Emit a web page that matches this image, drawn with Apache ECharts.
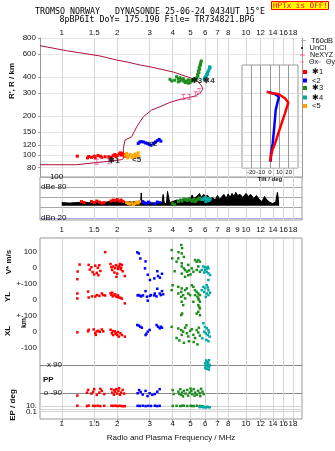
<!DOCTYPE html>
<html><head><meta charset="utf-8">
<script src="https://cdn.jsdelivr.net/npm/echarts@6/dist/echarts.min.js"></script>
<style>html,body{margin:0;padding:0;background:#fff}#c{width:335px;height:451px}</style>
</head><body><div id="c"></div>
<script>
// ---------------- DATA ----------------
const freqTicksTop = [1,1.5,2,3,4,5,6,7,8,10,12,14,16,18];
const freqTicksMid = [1,1.5,2,3,4,5,6,7,8,9,10,12,14,16,18];
const heightTicks = [80,90,100,120,150,200,300,400,600,800];
const tiltTicks = [-20,-10,0,10,20];
const dbLabelVals = [20,80,100];
const dbLabelText = ['dBn 20','dBe 80','    100'];
const dbGridVals = [40,60,80,100];
const compLabelText = ['100','0','+-100','0','+-100','0','-100','0.1'];
const epLabelText = ['10.'];
const ppLabelText = ['x 90','o -90'];

// plasma-frequency / height profile (MHz, km)
const profile = [[0.762,84.2],[1.20,84.2],[1.21,86.3],[1.61,88],[1.9,90.4],[2.10,92.0],[2.159,93.5],[2.159,95.4],[2.16,112.7],[2.206,130.6],[2.398,138.5],[2.553,165.4],[2.772,197.6],[3.078,222.6],[3.415,236],[3.869,255],[4.385,269],[4.86,277],[5.29,285.4],[5.63,299.4],[5.82,321.6],[5.75,341],[5.40,377],[4.97,395],[4.03,437],[3.01,480],[2.66,495],[2.35,516],[1.988,541],[1.614,581],[1.064,638],[0.762,698]];
const neXYZ = [[4.57,280],[4.92,282],[5.33,294],[5.56,312],[1.55,88.8],[1.80,89.5]];
const annotations = [['✱1',1.92,90.8],['<5',2.55,92.4],['<2',3.11,122.7],['✱3',5.39,376],['✱4',6.30,376]];

// tilt (deg, km)
const thetaX = [[-3.5,308],[-2,304],[2,300],[8.9,296],[16,274],[19.6,254],[16,210],[12.5,176],[8.9,147],[5.4,123],[2.5,109],[1,97],[0,89]];
const thetaY = [[-1,305],[3.5,299],[7.2,290],[9.6,279],[8.2,258],[6.1,222],[4.6,166],[2.9,123],[1,103],[0.7,89]];

// echo amplitude background (MHz, dB)
const dbNoise = [[1.0,50],[1.1,49],[1.2,50],[1.3,51],[1.4,50],[1.5,52],[1.6,51],[1.7,50],[1.8,52],[1.9,53],[2.0,54],[2.1,53],[2.2,52],[2.3,51],[2.4,52],[2.5,51],[2.6,52],[2.68,50],[2.70,69],[2.72,50],[2.8,49],[2.9,50],[3.0,48],[3.1,50],[3.2,47],[3.3,50],[3.4,49],[3.5,50],[3.55,66],[3.6,49],[3.7,48],[3.75,72],[3.8,70],[3.85,50],[3.9,49],[4.0,52],[4.2,55],[4.4,54],[4.6,57],[4.8,56],[5.0,58],[5.1,65],[5.2,58],[5.4,62],[5.6,68],[5.7,60],[5.9,66],[6.0,62],[6.2,64],[6.4,58],[6.6,60],[6.8,55],[7.0,64],[7.2,56],[7.4,62],[7.6,66],[7.8,58],[8.0,67],[8.2,60],[8.4,68],[8.6,62],[8.8,70],[9.0,64],[9.3,66],[9.6,60],[10.0,68],[10.3,62],[10.6,66],[11.0,58],[11.4,64],[11.8,56],[12.2,52],[12.6,62],[13.0,55],[13.5,50],[14.0,48],[14.5,52],[14.8,70],[15.0,56],[15.05,44]];

// mode 1 (red)
const redHeight = [[1.215,98],[1.38,95],[1.40,97.5],[1.45,96],[1.50,98],[1.52,95],[1.57,99],[1.62,98],[1.65,96],[1.72,97],[1.80,97],[1.86,96],[1.90,99],[1.94,101],[1.97,97],[2.00,99],[2.05,102],[2.08,104],[2.10,100],[2.13,103],[2.17,101],[2.20,98]];
const redDb = [[1.28,52],[1.32,50],[1.45,52],[1.50,50],[1.55,53],[1.60,51],[1.65,49],[1.70,50],[1.85,53],[1.90,55],[1.95,54],[2.00,56],[2.05,53],[2.10,55],[2.15,52]];
const redV = [[1.215,-70],[1.22,-22],[1.25,22],[1.40,20],[1.42,-10],[1.45,5],[1.47,-25],[1.50,-40],[1.52,15],[1.55,-30],[1.57,2],[1.60,18],[1.62,-18],[1.58,-45],[1.72,100],[1.84,25],[1.86,5],[1.88,-12],[1.90,10],[1.93,-28],[1.95,0],[1.97,18],[2.00,-35],[2.02,-5],[2.05,12],[2.07,25],[2.09,-8],[2.10,2],[2.12,20],[2.14,-20],[2.20,-50],[1.98,-55],[2.03,8]];
const redYL = [[1.215,40],[1.215,9],[1.39,52],[1.40,15],[1.46,22],[1.52,21],[1.55,30],[1.60,25],[1.65,40],[1.68,30],[1.84,42],[1.86,32],[1.89,22],[1.92,28],[1.95,35],[1.98,20],[2.02,28],[2.05,15],[2.09,12],[2.12,8],[2.20,-22],[1.88,45],[2.00,18],[1.72,28]];
const redXL = [[1.215,-4],[1.39,2],[1.40,12],[1.49,14],[1.52,-8],[1.55,2],[1.58,6],[1.61,-2],[1.65,14],[1.68,2],[1.53,-20],[1.84,12],[1.87,-10],[1.90,-21],[1.94,2],[1.97,-10],[2.00,-21],[2.04,-31],[2.08,-10],[2.12,-21],[2.20,-31],[1.89,4],[2.02,-2],[1.96,-14]];
const redPP = [[1.215,-105],[1.37,-86],[1.39,-69],[1.45,-92],[1.48,-80],[1.50,-64],[1.55,-100],[1.60,-86],[1.65,-75],[1.70,-95],[1.62,-62],[1.86,-64],[1.88,-86],[1.92,-100],[1.95,-80],[1.98,-64],[2.00,-92],[2.03,-75],[2.07,-100],[2.10,-86],[2.14,-69],[2.18,-92],[1.93,-70],[2.05,-58]];
const redEP = [[1.215,12],[1.37,9],[1.40,14],[1.48,11],[1.52,10],[1.57,12],[1.62,9],[1.70,11],[1.86,12],[1.90,10],[1.95,13],[2.00,9],[2.05,11],[2.10,10],[2.15,8],[2.20,9]];

// mode 5 (orange)
const orangeHeight = [[2.22,100],[2.25,103],[2.28,95],[2.30,98],[2.35,101],[2.40,96],[2.45,99],[2.50,102],[2.50,96],[2.55,100],[2.60,104],[2.62,98]];
const orangeDb = [[2.25,50],[2.30,48],[2.35,47],[2.40,50],[2.45,46],[2.50,48],[2.55,51],[2.60,49],[2.65,52]];

// mode 2 (blue)
const blueHeight = [[2.60,123],[2.65,126],[2.70,127],[2.78,126],[2.85,124],[2.92,123],[2.98,121],[3.05,119],[3.15,123],[3.22,126],[3.30,129],[3.38,132],[3.45,128]];
const blueDb = [[2.75,52],[2.80,50],[2.85,48],[2.95,51],[3.00,49],[3.20,48],[3.30,51],[3.40,50]];
const blueV = [[2.57,99],[2.62,92],[2.67,60],[2.85,42],[2.83,-2],[2.93,-42],[3.01,-75],[3.18,-65],[3.30,-20],[3.33,-50],[3.41,-60],[3.50,-36]];
const blueYL = [[2.58,28],[2.62,30],[2.67,25],[2.70,22],[2.76,28],[2.85,55],[2.90,20],[2.93,-5],[3.01,25],[3.05,30],[3.18,28],[3.27,22],[3.30,70],[3.40,40],[3.45,30],[3.50,55],[3.55,35],[3.20,40]];
const blueXL = [[2.57,42],[2.62,38],[2.67,31],[2.72,25],[2.85,-21],[2.88,-14],[2.93,0],[3.00,11],[3.27,42],[3.33,31],[3.40,21],[3.50,25],[3.45,31]];
const bluePP = [[2.58,-90],[2.63,-70],[2.68,-82],[2.75,-98],[2.85,-75],[2.92,-108],[3.00,-90],[3.10,-100],[3.20,-95],[3.30,-80],[3.40,-64]];
const blueEP = [[2.58,11],[2.65,10],[2.75,12],[2.85,9],[2.95,11],[3.05,10],[3.20,12],[3.30,9],[3.40,11]];

// mode 3 (green)
const greenHeight = [[3.87,384],[3.95,373],[4.10,378],[4.20,402],[4.29,388],[4.29,367],[4.38,395],[4.38,373],[4.48,384],[4.57,373],[4.57,388],[4.67,363],[4.70,372],[4.76,367],[4.86,358],[4.86,380],[4.97,363],[5.00,376],[5.08,373],[5.18,384],[5.29,388],[5.35,380],[5.40,395],[5.48,407],[5.46,419],[5.55,432],[5.51,445],[5.60,460],[5.57,472],[5.63,490],[5.66,500],[5.68,516],[5.72,532]];
const greenDb = [[4.0,48],[4.1,46],[4.3,52],[4.4,55],[4.5,53],[4.6,57],[4.7,56],[4.8,54],[4.9,58],[5.0,55],[5.1,53],[5.2,56],[5.3,52],[5.4,55],[5.5,57],[5.6,59],[5.7,56]];
const greenV = [[4.45,145],[4.50,125],[3.95,113],[4.30,100],[4.48,92],[3.98,61],[4.29,61],[4.60,70],[4.48,30],[4.48,10],[4.60,-2],[4.67,-12],[4.78,-23],[4.90,-15],[5.08,-2],[4.86,-45],[4.67,-55],[5.29,50],[5.40,40],[5.51,50],[5.62,40],[5.51,10],[5.40,-12],[5.62,-23],[5.18,-23],[4.86,20],[4.48,-35],[4.20,40],[5.00,-40],[4.10,-20]];
const greenYL = [[3.95,61],[4.00,92],[4.29,82],[4.45,50],[4.48,72],[4.29,40],[4.56,30],[4.67,61],[4.77,72],[4.86,40],[4.97,30],[4.45,19],[4.67,9],[4.48,-12],[4.56,-33],[4.45,-96],[4.50,-86],[5.08,92],[5.18,82],[5.29,61],[5.40,50],[5.51,40],[5.62,30],[5.51,9],[5.62,-12],[5.51,-33],[5.62,-54],[5.51,-75],[5.40,-86],[5.62,-96],[5.29,30],[5.18,-12],[5.45,20],[5.55,0],[5.58,-45]];
const greenXL = [[3.95,30],[4.29,20],[4.45,10],[4.48,-20],[4.56,0],[4.67,25],[4.78,-10],[4.86,-30],[4.97,5],[5.08,15],[5.18,-20],[5.29,-40],[5.40,10],[5.51,-5],[5.62,-25],[4.35,-55],[4.60,-70],[4.90,-60],[5.20,-65],[5.45,-80],[4.20,-40],[4.75,40],[5.55,25]];
const greenPP = [[4.0,-70],[4.05,-95],[4.3,-80],[4.4,-64],[4.45,-100],[4.5,-86],[4.6,-75],[4.7,-92],[4.8,-69],[4.85,-105],[4.95,-86],[5.05,-75],[5.1,-95],[5.2,-64],[5.3,-86],[5.4,-100],[5.5,-75],[5.6,-90],[5.7,-62],[5.8,-80],[5.9,-95],[4.55,-110],[5.25,-105],[5.65,-108],[4.35,-95],[5.0,-60]];
const greenEP = [[4.0,10],[4.2,11],[4.4,9],[4.6,12],[4.8,10],[5.0,11],[5.2,9],[5.4,12],[5.6,10],[5.8,8],[4.5,12],[5.1,10]];

// mode 4 (teal)
const tealHeight = [[5.93,384],[5.96,390],[5.99,395],[6.05,405],[6.08,400],[6.12,419],[6.18,432],[6.20,420],[6.25,445],[6.31,460],[6.38,472],[6.35,480]];
const tealDb = [[5.8,56],[5.9,58],[6.0,60],[6.05,52],[6.1,55],[6.2,58],[6.3,54],[6.4,57]];
const tealV = [[5.87,10],[5.99,5],[6.12,-2],[6.25,-2],[5.75,-12],[6.12,-23],[6.25,-33],[5.99,-12],[6.38,-44],[6.25,-75],[5.93,-28],[6.20,8]];
const tealYL = [[5.87,82],[5.99,72],[6.12,92],[6.25,61],[5.93,50],[6.12,40],[6.25,30],[6.38,45],[6.05,19],[5.75,61],[6.20,78]];
const tealXL = [[5.87,53],[5.99,30],[6.12,21],[6.25,10],[5.93,0],[6.05,-10],[6.20,-21],[6.35,-31],[5.80,-42],[6.10,-52],[6.25,-60],[6.30,-5]];
const tealPP = [[5.99,100],[6.05,85],[6.12,110],[6.20,95],[6.25,75],[6.30,120],[6.35,90],[6.12,65],[6.00,70],[6.22,105],[6.28,60],[6.15,88],[6.08,118],[6.32,80]];
const tealEP = [[5.6,4],[5.75,5],[5.85,3.5],[5.95,4.5],[6.05,3],[6.15,5],[6.25,4],[6.35,3.5]];

// ---------------- LAYOUT / HELPERS ----------------
const L = Math.log10;
const FONT = 'Liberation Sans, Arial, sans-serif';
const MONO = 'DejaVu Sans Mono, Liberation Mono, monospace';
const FMIN = 0.762, FMAX = 20.13;
const XMIN = L(FMIN), XMAX = L(FMAX);
const A_TOP = 38, A_H = 139;
const HMAX = L(800), HMIN = L(67.7);
const PXDEC = A_H / (HMAX - HMIN);
const D_TOP = 65, D_H = 103;
const DMAX = HMAX - (D_TOP - A_TOP) / PXDEC;
const DMIN = HMAX - (D_TOP + D_H - A_TOP) / PXDEC;
const B_TOP = 177, B_H = 43, DBMIN = 16, DBMAX = 100;
const NOISE_BASE = 44;
const NOISE_H = B_H * (DBMAX - NOISE_BASE) / (DBMAX - DBMIN);
const V_ZERO = 400, YL_ZERO = 200, XL_ZERO = 0;
const ppU = p => -298 + 0.99 * p;
const epU = e => -503 + 18 * L(e / 0.1);
const CMIN = -549, CMAX = 589;
const compLabelVals = [V_ZERO+100, V_ZERO, V_ZERO-100, YL_ZERO, YL_ZERO-100, XL_ZERO, XL_ZERO-100, epU(0.1)];
const epLabelVals = [epU(10)];
const ppLabelVals = [ppU(90), ppU(-90)];

const RED='#ff0000', BLUE='#0000ff', GREEN='#1e8c1e', TEAL='#00a8a8', ORANGE='#ffa500';
const fmtF = v => String(Math.round(Math.pow(10, v) * 10) / 10);
const nearest = (vals, v) => { let b = 0; for (let i = 1; i < vals.length; i++) if (Math.abs(vals[i] - v) < Math.abs(vals[b] - v)) b = i; return b; };
const LL = arr => arr.map(p => [L(p[0]), L(p[1])]);
const LF = arr => arr.map(p => [L(p[0]), p[1]]);
function comp(v, yl, xl, pp, ep) {
  return [].concat(
    v.map(p => [L(p[0]), V_ZERO + p[1]]),
    yl.map(p => [L(p[0]), YL_ZERO + p[1]]),
    xl.map(p => [L(p[0]), XL_ZERO + p[1]]),
    pp.map(p => [L(p[0]), ppU(p[1])]),
    ep.map(p => [L(p[0]), epU(p[1])]));
}
const lblBase = {fontSize: 8, color: '#111', hideOverlap: false, showMinLabel: true, showMaxLabel: true};

function freqAxis(gridIndex, position, labelTicks, gridTicks, margin, extra) {
  return Object.assign({
    type: 'value', gridIndex, position, min: XMIN, max: XMAX,
    axisLine: {show: false, onZero: false},
    axisTick: {show: false, customValues: gridTicks.map(L)},
    axisLabel: Object.assign({}, lblBase, {customValues: labelTicks.map(L), formatter: v => fmtF(v), margin}),
    splitLine: {show: true, lineStyle: {color: '#d6d6d6', width: 1}}
  }, extra || {});
}
function sc(name, color, data, xi, yi, size, z) {
  return {type: 'scatter', name, xAxisIndex: xi, yAxisIndex: yi, data, symbol: 'rect', symbolSize: size,
          itemStyle: {color, opacity: 1}, silent: true, z: z || 3, clip: true};
}
const IBEAM = 'path://M0 0h5v1h-2v5h2v1h-5v-1h2v-5h-2z';
const PLUS = 'path://M0 2h6v1h-6zM2.5 0h1v5h-1z';
const DASH = 'path://M0 0h6v1h-6z';

const legendRows = [
  {names: [{name: 'T60dB', icon: DASH}], top: 36.5, w: 5, h: 1, left: 301, fs: 7.5},
  {names: [{name: 'UnCl', icon: 'circle'}], top: 44, w: 5, h: 2, left: 301, fs: 7.5},
  {names: [{name: 'NeXYZ', icon: PLUS}], top: 51.5, w: 5, h: 5, left: 300, fs: 7.2},
  {names: [{name: 'Θx', icon: DASH}], top: 58.5, w: 4, h: 1, left: 300, fs: 7},
  {names: [{name: 'Θy', icon: DASH}], top: 58.5, w: 4, h: 1, left: 317, fs: 7},
  {names: ['✱1'], top: 68, w: 4, h: 4, left: 303, fs: 7.5},
  {names: ['<2'], top: 76.5, w: 4, h: 4, left: 303, fs: 7.5},
  {names: ['✱3'], top: 84, w: 4, h: 4, left: 303, fs: 7.5},
  {names: ['✱4'], top: 93.5, w: 4, h: 4, left: 303, fs: 7.5},
  {names: ['<5'], top: 102, w: 4, h: 4, left: 303, fs: 7.5}
];

const option = {
  animation: false,
  backgroundColor: '#ffffff',
  textStyle: {fontFamily: FONT},
  title: [
    {text: 'TROMSO NORWAY   DYNASONDE 25-06-24 0434UT 15°E', left: 150, top: 7.5, textAlign: 'center', padding: 0,
     textStyle: {fontFamily: MONO, fontSize: 8.3, fontWeight: 'normal', color: '#000'}},
    {text: '8pBP6It DoY= 175.190 File= TR734821.BPG', left: 157, top: 16, textAlign: 'center', padding: 0,
     textStyle: {fontFamily: MONO, fontSize: 8.3, fontWeight: 'normal', color: '#000'}},
    {text: 'HPTx is OFF!', left: 271, top: 1, padding: [1, 1, 0, 2], backgroundColor: '#ffff00', borderColor: '#ff0000', borderWidth: 1,
     textStyle: {fontFamily: MONO, fontSize: 7.6, fontWeight: 'normal', color: '#ff0000'}}
  ],
  legend: legendRows.map(r => ({
    left: r.left, top: r.top, width: 120, orient: 'horizontal', padding: 0, itemGap: 1, itemWidth: r.w, itemHeight: r.h,
    selectedMode: false, data: r.names, textStyle: {fontSize: r.fs, color: '#111'}
  })),
  grid: [
    {left: 40, top: A_TOP, width: 262, height: A_H, show: false, containLabel: false, outerBoundsMode: 'none'},
    {left: 40, top: B_TOP, width: 262, height: B_H, show: true, borderColor: '#999', borderWidth: 1, backgroundColor: 'transparent', containLabel: false, outerBoundsMode: 'none'},
    {left: 40, top: 238, width: 262, height: 181, show: true, borderColor: '#999', borderWidth: 1, backgroundColor: 'transparent', containLabel: false, outerBoundsMode: 'none'},
    {left: 242, top: D_TOP, width: 56, height: D_H, show: true, borderColor: '#999', borderWidth: 1, backgroundColor: '#ffffff', z: 1, containLabel: false, outerBoundsMode: 'none'},
    {left: 40, top: B_TOP, width: 262, height: NOISE_H, show: false, containLabel: false, outerBoundsMode: 'none'}
  ],
  xAxis: [
    freqAxis(0, 'top', freqTicksTop, freqTicksTop, 1),
    freqAxis(1, 'bottom', freqTicksMid, freqTicksTop, 6),
    freqAxis(2, 'bottom', freqTicksTop, freqTicksTop, 1, {
      axisTick: {show: true, length: 3, customValues: freqTicksTop.map(L), lineStyle: {color: '#999'}},
      name: 'Radio and Plasma Frequency / MHz', nameLocation: 'middle', nameGap: 15,
      nameTextStyle: {fontSize: 8, color: '#111'}}),
    {type: 'value', gridIndex: 3, min: -30, max: 30, z: 2, position: 'bottom',
     axisLine: {show: false, onZero: false}, axisTick: {show: false, customValues: tiltTicks},
     axisLabel: Object.assign({}, lblBase, {fontSize: 6, customValues: tiltTicks, margin: 1}),
     splitLine: {show: true, lineStyle: {color: '#999'}},
     name: 'Tilt / deg', nameLocation: 'middle', nameGap: 6, nameTextStyle: {fontSize: 6, fontWeight: 'bold', color: '#111'}},
    {type: 'value', gridIndex: 4, min: XMIN, max: XMAX, show: false}
  ],
  yAxis: [
    {type: 'value', gridIndex: 0, position: 'left', min: HMIN, max: HMAX,
     axisLine: {show: true, onZero: false, lineStyle: {color: '#999'}},
     axisTick: {show: true, length: 2, customValues: heightTicks.map(L), lineStyle: {color: '#999'}},
     axisLabel: Object.assign({}, lblBase, {customValues: heightTicks.map(L), formatter: v => String(Math.round(Math.pow(10, v))), margin: 4}),
     splitLine: {show: true, lineStyle: {color: '#e6e6e6'}}},
    {type: 'value', gridIndex: 0, position: 'right', min: HMIN, max: HMAX,
     axisLine: {show: true, onZero: false, lineStyle: {color: '#999'}}, axisTick: {show: false},
     axisLabel: {show: false}, splitLine: {show: false}},
    {type: 'value', gridIndex: 1, position: 'left', min: DBMIN, max: DBMAX,
     axisLine: {show: false, onZero: false}, axisTick: {show: false, customValues: dbGridVals},
     axisLabel: Object.assign({}, lblBase, {inside: true, customValues: dbLabelVals, formatter: v => dbLabelText[nearest(dbLabelVals, v)], margin: 1}),
     splitLine: {show: true, lineStyle: {color: '#a8a8a8'}}},
    {type: 'value', gridIndex: 1, position: 'left', min: DBMIN, max: DBMAX,
     axisLine: {show: false, onZero: false}, axisTick: {show: false, customValues: [20]},
     axisLabel: {show: false}, splitLine: {show: true, lineStyle: {color: '#a8a8e8'}}},
    {type: 'value', gridIndex: 2, position: 'left', min: CMIN, max: CMAX,
     axisLine: {show: false, onZero: false}, axisTick: {show: false, customValues: compLabelVals},
     axisLabel: Object.assign({}, lblBase, {customValues: compLabelVals, formatter: v => compLabelText[nearest(compLabelVals, v)], margin: 3}),
     splitLine: {show: false}},
    {type: 'value', gridIndex: 2, position: 'left', min: CMIN, max: CMAX,
     axisLine: {show: false, onZero: false}, axisTick: {show: false, customValues: ppLabelVals},
     axisLabel: Object.assign({}, lblBase, {customValues: ppLabelVals, formatter: v => ppLabelText[nearest(ppLabelVals, v)], margin: -22}),
     splitLine: {show: true, lineStyle: {color: '#888'}}},
    {type: 'value', gridIndex: 2, position: 'left', min: CMIN, max: CMAX,
     axisLine: {show: false, onZero: false}, axisTick: {show: false, customValues: [epU(10), epU(1), epU(0.1)]},
     axisLabel: Object.assign({}, lblBase, {customValues: epLabelVals, formatter: v => epLabelText[0], margin: 3}),
     splitLine: {show: true, lineStyle: {color: '#d4d4d4'}}},
    {type: 'value', gridIndex: 3, position: 'left', min: DMIN, max: DMAX, z: 2,
     axisLine: {show: false, onZero: false}, axisTick: {show: false, customValues: heightTicks.map(L)},
     axisLabel: {show: false}, splitLine: {show: true, lineStyle: {color: '#dddddd'}}},
    {type: 'value', gridIndex: 4, min: NOISE_BASE, max: DBMAX, show: false}
  ],
  graphic: [
    {type: 'text', x: 12, y: 81, rotation: Math.PI / 2, style: {text: "R', R / km", font: 'bold 8px ' + FONT, fill: '#111', align: 'center', verticalAlign: 'middle'}},
    {type: 'text', x: 9, y: 262, rotation: Math.PI / 2, style: {text: 'V* m/s', font: 'bold 8px ' + FONT, fill: '#111', align: 'center', verticalAlign: 'middle'}},
    {type: 'text', x: 8, y: 297, rotation: Math.PI / 2, style: {text: 'YL', font: 'bold 8px ' + FONT, fill: '#111', align: 'center', verticalAlign: 'middle'}},
    {type: 'text', x: 24, y: 323, rotation: Math.PI / 2, style: {text: 'km', font: 'bold 7px ' + FONT, fill: '#111', align: 'center', verticalAlign: 'middle'}},
    {type: 'text', x: 8, y: 331, rotation: Math.PI / 2, style: {text: 'XL', font: 'bold 8px ' + FONT, fill: '#111', align: 'center', verticalAlign: 'middle'}},
    {type: 'text', x: 13, y: 405, rotation: Math.PI / 2, style: {text: 'EP / deg', font: 'bold 8px ' + FONT, fill: '#111', align: 'center', verticalAlign: 'middle'}},
    {type: 'text', x: 43, y: 379.5, style: {text: 'PP', font: 'bold 8px ' + FONT, fill: '#111', align: 'left', verticalAlign: 'middle'}}
  ],
  series: [
    {type: 'line', name: 'profile', xAxisIndex: 0, yAxisIndex: 0, data: LL(profile), symbol: 'none',
     lineStyle: {color: '#b0103a', width: 1}, silent: true, z: 2},
    {type: 'line', name: 'T60dB', xAxisIndex: 0, yAxisIndex: 0, data: [], symbol: 'none', lineStyle: {color: '#aaaaaa', width: 1}, itemStyle: {color: '#aaaaaa'}},
    {type: 'scatter', name: 'UnCl', xAxisIndex: 0, yAxisIndex: 0, data: [], symbol: 'circle', symbolSize: 2, itemStyle: {color: '#000', opacity: 1}},
    {type: 'scatter', name: 'NeXYZ', xAxisIndex: 0, yAxisIndex: 0, data: LL(neXYZ), symbol: IBEAM, symbolSize: [4, 6],
     itemStyle: {color: '#f0609a', opacity: 1}, silent: true, z: 4},
    sc('✱1', RED, LL(redHeight), 0, 0, 3),
    sc('<5', ORANGE, LL(orangeHeight), 0, 0, 3),
    sc('<2', BLUE, LL(blueHeight), 0, 0, 3),
    sc('✱3', GREEN, LL(greenHeight), 0, 0, 3),
    sc('✱4', TEAL, LL(tealHeight), 0, 0, 3),
    {type: 'scatter', name: 'annot', xAxisIndex: 0, yAxisIndex: 0, data: annotations.map(a => [L(a[1]), L(a[2]), a[0]]),
     symbolSize: 1, itemStyle: {color: 'rgba(0,0,0,0)'}, silent: true, z: 5,
     label: {show: true, position: 'inside', formatter: p => p.data[2], fontSize: 8, fontWeight: 'bold', color: '#000'}},
    {type: 'line', name: 'noise', xAxisIndex: 4, yAxisIndex: 8, data: LF(dbNoise),
     symbol: 'none', lineStyle: {color: '#000', width: 1}, areaStyle: {color: '#000', opacity: 1, origin: 'start'}, silent: true, z: 2},
    sc('✱1', RED, LF(redDb), 1, 2, 3),
    sc('<5', ORANGE, LF(orangeDb), 1, 2, 3),
    sc('<2', BLUE, LF(blueDb), 1, 2, 3),
    sc('✱3', GREEN, LF(greenDb), 1, 2, 3),
    sc('✱4', TEAL, LF(tealDb), 1, 2, 3),
    sc('✱1', RED, comp(redV, redYL, redXL, redPP, redEP), 2, 4, 2.5),
    sc('<2', BLUE, comp(blueV, blueYL, blueXL, bluePP, blueEP), 2, 4, 2.5),
    sc('✱3', GREEN, comp(greenV, greenYL, greenXL, greenPP, greenEP), 2, 4, 2.5),
    sc('✱4', TEAL, comp(tealV, tealYL, tealXL, tealPP, tealEP), 2, 4, 2.5),
    {type: 'line', name: 'Θy', xAxisIndex: 3, yAxisIndex: 7, data: thetaY.map(p => [p[0], L(p[1])]), symbol: 'none',
     lineStyle: {color: BLUE, width: 2.5}, itemStyle: {color: '#7070ff'}, silent: true, z: 6},
    {type: 'line', name: 'Θx', xAxisIndex: 3, yAxisIndex: 7, data: thetaX.map(p => [p[0], L(p[1])]), symbol: 'none',
     lineStyle: {color: RED, width: 2.5}, itemStyle: {color: '#f06070'}, silent: true, z: 6}
  ]
};
const chart = echarts.init(document.getElementById('c'), null, {renderer: 'canvas'});
chart.setOption(option);
</script></body></html>
